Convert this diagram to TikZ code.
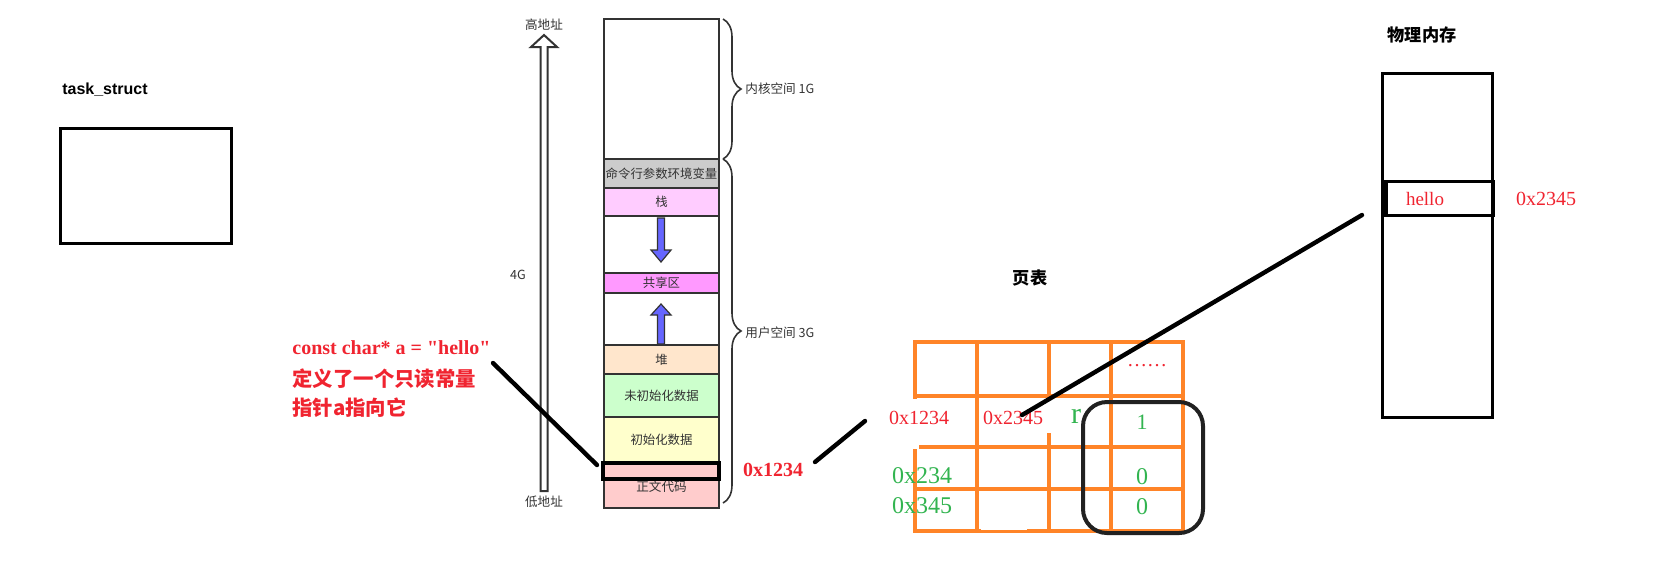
\documentclass[tikz,border=0pt]{standalone}
\usepackage{fontspec}
\setmainfont{Liberation Serif}
\setsansfont{Liberation Sans}
\newfontfamily\cjk{Noto Sans CJK SC}
\usetikzlibrary{decorations.pathreplacing}
\newcommand\sq{\XeTeXglyph\XeTeXcharglyph"22\relax}
\definecolor{redt}{RGB}{240,36,48}
\definecolor{greent}{RGB}{50,180,80}
\definecolor{orng}{RGB}{255,132,40}
\definecolor{segline}{RGB}{51,51,51}
\definecolor{cmdc}{RGB}{204,204,204}
\definecolor{stackc}{RGB}{255,204,255}
\definecolor{sharec}{RGB}{255,153,255}
\definecolor{heapc}{RGB}{255,230,204}
\definecolor{bssc}{RGB}{204,255,204}
\definecolor{datac}{RGB}{255,255,204}
\definecolor{textc}{RGB}{255,204,204}
\definecolor{arrowc}{RGB}{102,102,255}
\begin{document}
\begin{tikzpicture}[x=0.5pt,y=-0.5pt,
  seg/.style={draw=segline,line width=0.8pt,minimum width=57.5pt,inner sep=0pt,
    font=\cjk\fontsize{6.2}{7}\selectfont,text=segline},
  small/.style={font=\cjk\fontsize{6.3}{7}\selectfont,text=segline,inner sep=0pt},
  redtxt/.style={text=redt,inner sep=0pt,font=\fontsize{10}{12}\selectfont},
  grtxt/.style={text=greent,inner sep=0pt,font=\fontsize{12}{14}\selectfont},
  title/.style={inner sep=0pt,font=\cjk\bfseries\fontsize{8.6}{10}\selectfont},
  thick line/.style={line width=2.2pt,line cap=round,black},
  tbl/.style={draw=orng,line width=2pt},
  brace/.style={draw=segline,line width=0.8pt,decorate,decoration={brace,amplitude=9pt}},
  patch/.style={fill=white,draw=none}
]
\useasboundingbox (0,0) rectangle (1659,586);

% task_struct
\node[inner sep=0pt,font=\sffamily\bfseries\fontsize{8}{9}\selectfont] (ts) at (105,90) {task\_struct};
\draw[line width=1.5pt] (60,128) rectangle (231,243);

% address arrow
\draw[line width=1pt,fill=white,draw=segline] (540.5,491) -- (547.5,491) -- (547.5,47) -- (557,47) -- (544,35) -- (531,47) -- (540.5,47) -- cycle;
\node[small] (hi) at (544,25) {高地址};
\node[small] (lo) at (544,502) {低地址};
\node[small] (fourg) at (518,275) {4G};

% memory segments
\node[seg,fill=white,minimum height=70pt] (kern) at (661.5,89) {};
\node[seg,fill=cmdc,minimum height=14.5pt] (cmd) at (661.5,173.5) {命令行参数环境变量};
\node[seg,fill=stackc,minimum height=14pt] (stack) at (661.5,202) {栈};
\node[seg,fill=white,minimum height=28.5pt] (gap1) at (661.5,244.5) {};
\node[seg,fill=sharec,minimum height=10pt] (share) at (661.5,283) {共享区};
\node[seg,fill=white,minimum height=26pt] (gap2) at (661.5,319) {};
\node[seg,fill=heapc,minimum height=14.5pt] (heap) at (661.5,359.5) {堆};
\node[seg,fill=bssc,minimum height=21.5pt] (bss) at (661.5,395.5) {未初始化数据};
\node[seg,fill=datac,minimum height=22.5pt] (data) at (661.5,439.5) {初始化数据};
\node[seg,fill=textc,minimum height=23pt] (code) at (661.5,485) {};
\node[small] (codelbl) at (661.5,487) {正文代码};
\node[draw=black,line width=2pt,fill=textc,minimum width=58pt,minimum height=8pt,inner sep=0pt] (sel) at (661,471) {};

% growth arrows
\draw[fill=arrowc,line width=0.6pt,draw=segline] (657.5,218) -- (664.5,218) -- (664.5,250) -- (671,250) -- (661,262) -- (651,250) -- (657.5,250) -- cycle;
\draw[fill=arrowc,line width=0.6pt,draw=segline] (657.5,344) -- (664.5,344) -- (664.5,315) -- (671,315) -- (661,304) -- (651,315) -- (657.5,315) -- cycle;

% braces
\draw[brace] (723,19) -- (723,159);
\draw[brace] (723,159) -- (723,503);
\node[small,anchor=west] (kl) at (745,89) {内核空间 1G};
\node[small,anchor=west] (ul) at (745,333) {用户空间 3G};

% left explanation
\node[redtxt,anchor=west,font=\bfseries\fontsize{10}{12}\selectfont] (c1) at (292,348) {const char* a = \sq hello\sq};
\node[redtxt,anchor=west,font=\cjk\bfseries\fontsize{10.2}{12}\selectfont] (c2) at (292,379) {定义了一个只读常量};
\node[redtxt,anchor=west,font=\cjk\bfseries\fontsize{10.2}{12}\selectfont] (c3) at (292,408) {指针a指向它};
\coordinate (l1a) at (493,363);
\coordinate (l1b) at (597,465);
\draw[thick line] (l1a) -- (l1b);

\node[redtxt,font=\bfseries\fontsize{10}{12}\selectfont] (va) at (773,470) {0x1234};
\coordinate (l2a) at (815,462);
\coordinate (l2b) at (865,421);
\draw[thick line] (l2a) -- (l2b);

% page table
\node[title] (pt) at (1030,278) {页表};
\draw[tbl] (915,342) rectangle (1183,531);
\draw[tbl] (977,342) -- (977,531) (1049,342) -- (1049,531) (1111,342) -- (1111,531);
\draw[tbl] (915,396) -- (1183,396) (915,447) -- (1183,447) (915,489) -- (1183,489);
\fill[patch] (908,399) rectangle (974,445);
\fill[patch] (908,445) rectangle (919,449);
\fill[patch] (980,399) rectangle (1052,433);
\fill[patch] (981,527) rectangle (1027,530);
\node[redtxt] (dots) at (1147,366) {……};
\node[redtxt] (t1) at (919,418) {0x1234};
\node[redtxt] (t2) at (1013,418) {0x2345};
\node[grtxt,font=\fontsize{15}{17}\selectfont] (r) at (1076,416) {r};
\node[grtxt,font=\fontsize{11}{13}\selectfont] (one) at (1142,422) {1};
\node[grtxt] (z1) at (1142,477) {0};
\node[grtxt] (z2) at (1142,507) {0};
\node[grtxt] (g1) at (922,476) {0x234};
\node[grtxt] (g2) at (922,506) {0x345};
\draw[line width=2pt,draw=black!87,rounded corners=12pt] (1083,402) rectangle (1203,533);

% physical memory
\node[title] (pm) at (1422,35) {物理内存};
\draw[line width=1.5pt] (1382,73) rectangle (1492,417);
\draw[line width=1.5pt] (1384,181) rectangle (1493,215);
\draw[line width=3pt] (1385,182) -- (1385,214);
\node[redtxt,font=\fontsize{9.5}{11}\selectfont] (hello) at (1425,199) {hello};
\node[redtxt] (pa) at (1546,199) {0x2345};

\coordinate (l3a) at (1022,415);
\coordinate (l3b) at (1362,215);
\draw[thick line] (l3a) -- (l3b);
\end{tikzpicture}
\end{document}
